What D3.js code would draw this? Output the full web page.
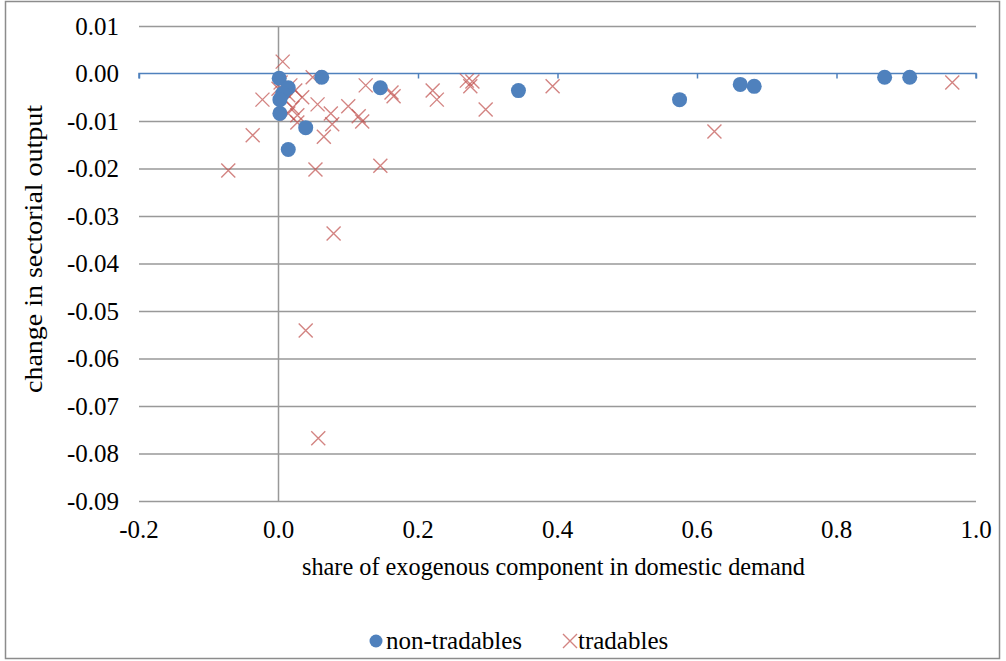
<!DOCTYPE html>
<html>
<head>
<meta charset="utf-8">
<script src="https://cdn.jsdelivr.net/npm/d3@7"></script>
<style>
  html, body { margin: 0; padding: 0; background: #fff; }
</style>
</head>
<body>
<svg id="chart" width="1006" height="661"></svg>
<script>
// ---- data ----
const xTicks = [-0.2, 0.0, 0.2, 0.4, 0.6, 0.8, 1.0];
const yTicks = [0.01, 0.00, -0.01, -0.02, -0.03, -0.04, -0.05, -0.06, -0.07, -0.08, -0.09];

const nonTradablesX = [0.001, 0.014, 0.006, 0.002, 0.002, 0.039, 0.014, 0.062, 0.146, 0.344, 0.575, 0.662, 0.682, 0.869, 0.905];
const nonTradablesY = [-0.0010, -0.0030, -0.0042, -0.0055, -0.0084, -0.0114, -0.0160, -0.0008, -0.0030, -0.0036, -0.0055, -0.0023, -0.0027, -0.0008, -0.0008];

const tradablesX = [0.006, -0.023, -0.037, -0.072, 0.053, 0.146, 0.079, 0.039, 0.057, 0.065,
                    0.027, 0.077, 0.075, 0.120, 0.115, 0.100, 0.056, 0.049, 0.125, 0.162,
                    0.165, 0.221, 0.227, 0.270, 0.275, 0.278, 0.297, 0.393, 0.625, 0.966,
                    0.034, 0.020, 0.027, 0.003, 0.007, 0.014, 0.010, 0.017, 0.000, 0.024, 0.014];
const tradablesY = [0.0025, -0.0055, -0.0130, -0.0204, -0.0202, -0.0194, -0.0337, -0.0541, -0.0768, -0.0133,
                    -0.0103, -0.0107, -0.0084, -0.0101, -0.0090, -0.0069, -0.0065, -0.0008, -0.0025, -0.0040,
                    -0.0048, -0.0036, -0.0055, -0.0015, -0.0027, -0.0017, -0.0076, -0.0027, -0.0122, -0.0019,
                    -0.0050, -0.0072, -0.0088, -0.0019, -0.0036, -0.0046, -0.0057, -0.0025, -0.0032, -0.0036, -0.0084];

const xTitle = "share of exogenous component in domestic demand";
const yTitle = "change in sectorial output";
const seriesNames = ["non-tradables", "tradables"];

// ---- layout ----
const FONT = "Liberation Serif";
const svg = d3.select("#chart");
const plot = { left: 139, right: 976, top: 26, bottom: 501 };
const blue = "#4F81BD", red = "#C0504D";
const fmtY = v => d3.format(".2f")(v).replace("\u2212", "-");
const fmtX = v => d3.format(".1f")(v).replace("\u2212", "-");

const x = d3.scaleLinear().domain([-0.2, 1.0]).range([plot.left, plot.right]);
const y = d3.scaleLinear().domain([0.01, -0.09]).range([plot.top, plot.bottom]);

// outer border
svg.append("rect").attr("x", 5.5).attr("y", 1.5).attr("width", 994).attr("height", 657)
  .attr("fill", "#fff").attr("stroke", "#8c8c8c").attr("stroke-width", 1.5);

// gridlines + y tick labels
const yAxis = d3.axisLeft(y).tickValues(yTicks).tickSize(-(plot.right - plot.left)).tickFormat(fmtY);
const gy = svg.append("g").attr("transform", `translate(${plot.left},0)`).call(yAxis);
gy.attr("font-family", null);
gy.select(".domain").remove();
gy.selectAll(".tick line").attr("stroke", "#999").attr("stroke-width", 1.5)
  .attr("display", d => Math.abs(d) < 1e-9 ? "none" : null);
gy.selectAll(".tick text").attr("font-size", 25).attr("x", -20).attr("fill", "#000")
  .style("font-family", FONT);

// vertical line at x = 0
svg.append("line").attr("x1", x(0)).attr("x2", x(0)).attr("y1", plot.top).attr("y2", plot.bottom)
  .attr("stroke", "#999").attr("stroke-width", 1.5);

// x axis line at y = 0 with ticks
const xAxis = d3.axisBottom(x).tickValues(xTicks).tickSize(5).tickFormat("");
const gx = svg.append("g").attr("transform", `translate(0,${y(0)})`).call(xAxis);
gx.select(".domain").attr("stroke", blue).attr("stroke-width", 1.5).attr("d", `M${plot.left},5V0H${plot.right}V5`);
gx.selectAll(".tick line").attr("stroke", blue).attr("stroke-width", 1.5);

// x tick labels at bottom
svg.append("g").selectAll("text").data(xTicks).join("text")
  .attr("x", d => x(d)).attr("y", 538).attr("text-anchor", "middle").attr("font-size", 25)
  .style("font-family", FONT).text(fmtX);

// titles
svg.append("text").attr("x", 302).attr("y", 575)
  .attr("font-size", 24.5).attr("textLength", 503).attr("lengthAdjust", "spacingAndGlyphs")
  .style("font-family", FONT).text(xTitle);
svg.append("text").attr("transform", `translate(42,393) rotate(-90)`)
  .attr("font-size", 25).attr("textLength", 288).attr("lengthAdjust", "spacingAndGlyphs")
  .style("font-family", FONT).text(yTitle);

// tradables crosses
const cs = 7;
const tradables = tradablesX.map((v, i) => [v, tradablesY[i]]);
svg.append("g").selectAll("path").data(tradables).join("path")
  .attr("d", d => {
    const px = x(d[0]), py = y(d[1]);
    return `M${px - cs},${py - cs}L${px + cs},${py + cs}M${px - cs},${py + cs}L${px + cs},${py - cs}`;
  })
  .attr("stroke", red).attr("stroke-width", 1.4).attr("stroke-opacity", 0.7).attr("fill", "none");

// non-tradables circles
const nonTradables = nonTradablesX.map((v, i) => [v, nonTradablesY[i]]);
svg.append("g").selectAll("circle").data(nonTradables).join("circle")
  .attr("cx", d => x(d[0])).attr("cy", d => y(d[1])).attr("r", 7.5).attr("fill", blue);

// legend
const lg = svg.append("g");
lg.append("circle").attr("cx", 376).attr("cy", 641).attr("r", 6.5).attr("fill", blue);
lg.append("text").attr("x", 386).attr("y", 649).attr("font-size", 25).style("font-family", FONT).text(seriesNames[0]);
lg.append("path").attr("d", `M${570 - 7},${641 - 7}L${570 + 7},${641 + 7}M${570 - 7},${641 + 7}L${570 + 7},${641 - 7}`)
  .attr("stroke", red).attr("stroke-width", 1.4).attr("stroke-opacity", 0.7);
lg.append("text").attr("x", 578).attr("y", 649).attr("font-size", 25).style("font-family", FONT).text(seriesNames[1]);
</script>
</body>
</html>
